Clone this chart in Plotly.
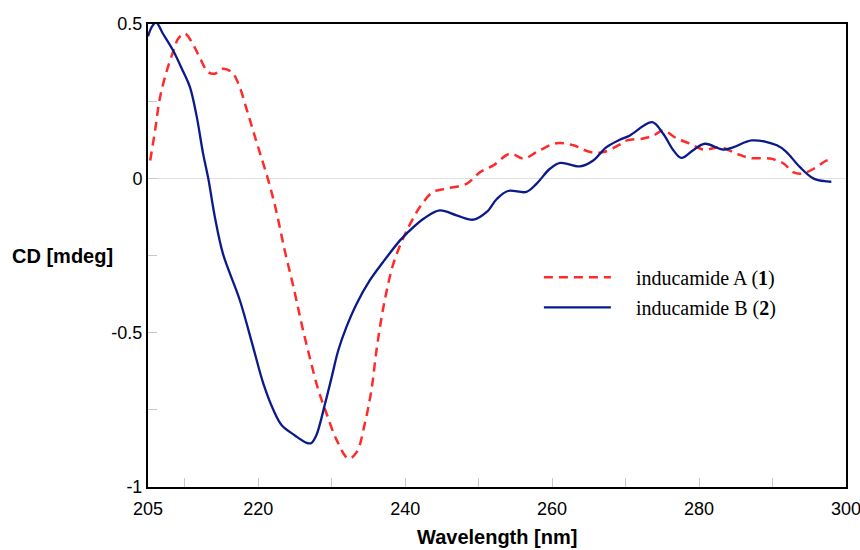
import plotly.graph_objects as go

# inducamide B (2) - solid blue
wl_b = [205.0, 205.5, 206.1, 207.0, 208.4, 209.8, 210.7, 211.6, 212.5, 213.2, 214.1, 215.2,
        217.5, 219.3, 220.7, 222.1, 223.2, 225.0, 226.6, 227.2, 227.9, 229.1, 230.0, 230.9,
        232.0, 233.4, 235.2, 237.0, 239.3, 240.2, 242.5, 244.7, 247.0, 249.3, 251.1, 252.5,
        254.0, 256.5, 257.9, 259.7, 261.1, 263.8, 265.6, 267.4, 269.2, 270.6, 273.6, 275.1,
        276.5, 277.6, 279.2, 280.8, 283.3, 284.7, 287.2, 290.6, 291.9, 293.7, 295.6, 297.4, 298.0]
cd_b = [0.46, 0.49, 0.505, 0.47, 0.415, 0.345, 0.296, 0.204, 0.080, 0.0, -0.125, -0.244,
        -0.395, -0.546, -0.665, -0.752, -0.800, -0.833, -0.857, -0.858, -0.833, -0.730, -0.644, -0.557,
        -0.482, -0.406, -0.330, -0.271, -0.201, -0.179, -0.131, -0.104, -0.120, -0.134, -0.109, -0.066,
        -0.041, -0.044, -0.017, 0.031, 0.050, 0.039, 0.058, 0.101, 0.125, 0.139, 0.182, 0.145,
        0.091, 0.066, 0.091, 0.112, 0.093, 0.101, 0.123, 0.107, 0.085, 0.037, -0.001, -0.010, -0.011]

# inducamide A (1) - dashed red
wl_a = [205.3, 206.0, 206.6, 207.5, 208.4, 209.1, 210.0, 211.2, 212.1, 213.2, 214.1, 215.2,
        216.4, 217.3, 218.4, 219.3, 220.2, 221.3, 222.4, 223.6, 224.8, 225.9, 227.0, 228.2,
        229.3, 230.7, 232.3, 233.4, 234.5, 235.4, 236.1, 236.8, 237.5, 238.4, 239.8, 240.7,
        242.0, 243.8, 245.7, 248.4, 250.2, 252.0, 254.3, 256.1, 257.9, 260.6, 262.9, 265.2,
        267.0, 269.2, 270.2, 272.4, 273.8, 275.1, 277.0, 278.8, 280.6, 282.9, 285.1, 286.9,
        289.7, 291.5, 292.8, 294.0, 295.6, 297.4, 298.0]
cd_a = [0.058, 0.161, 0.258, 0.344, 0.409, 0.452, 0.469, 0.431, 0.388, 0.344, 0.339, 0.355,
        0.344, 0.307, 0.226, 0.155, 0.085, 0.0, -0.100, -0.233, -0.352, -0.471, -0.579, -0.687,
        -0.762, -0.849, -0.908, -0.887, -0.795, -0.687, -0.557, -0.449, -0.363, -0.276, -0.190, -0.147,
        -0.093, -0.044, -0.033, -0.017, 0.020, 0.042, 0.080, 0.064, 0.085, 0.114, 0.107, 0.085,
        0.085, 0.109, 0.123, 0.129, 0.139, 0.155, 0.129, 0.112, 0.093, 0.101, 0.080, 0.066,
        0.064, 0.048, 0.020, 0.015, 0.031, 0.058, 0.060]

x_labels = [205, 220, 240, 260, 280, 300]
x_minor = [210, 220, 230, 240, 250, 260, 270, 280, 290]
y_labels = [0.5, 0, -0.5, -1]
y_label_text = ["0.5", "0", "-0.5", "-1"]
y_minor = [0.25, 0, -0.25, -0.5, -0.75]

GAP = "\u2002\u2002"

fig = go.Figure()
fig.add_trace(go.Scatter(x=wl_a, y=cd_a, mode="lines", name=GAP + "inducamide A (<b>1</b>)",
                         line=dict(color="#ff2a2a", width=2.5, dash="9px,6px", shape="spline", smoothing=1.0),
                         legendgroup="a"))
fig.add_trace(go.Scatter(x=wl_b, y=cd_b, mode="lines", name=GAP + "inducamide B (<b>2</b>)",
                         line=dict(color="#0a1a8a", width=2.3, shape="spline", smoothing=1.0),
                         legendgroup="b"))

fig.update_layout(
    width=860, height=550,
    margin=dict(l=148, r=14, t=24, b=63, autoexpand=False),
    paper_bgcolor="white", plot_bgcolor="white",
    font=dict(family="Liberation Sans, Arial", size=18, color="black"),
    showlegend=True,
    legend=dict(x=0.56, y=0.495, xanchor="left", yanchor="top",
                font=dict(family="Liberation Serif, Times New Roman", size=20, color="black"),
                bgcolor="rgba(0,0,0,0)", tracegroupgap=1, itemwidth=67),
    xaxis=dict(range=[205, 300], tickvals=x_labels, ticktext=[str(v) for v in x_labels],
               ticks="", showgrid=False, zeroline=False, automargin=False, ticklabelstandoff=4,
               ticklabeloverflow="allow",
               showline=True, mirror=True, linecolor="black", linewidth=2,
               minor=dict(tickvals=x_minor, ticks="inside", ticklen=9, tickcolor="#c8c8c8", tickwidth=1, showgrid=False)),
    yaxis=dict(range=[-1, 0.5], tickvals=y_labels, ticktext=y_label_text, automargin=False,
               ticks="", showgrid=False, zeroline=True, zerolinecolor="#e0e0e0", zerolinewidth=1,
               ticklabeloverflow="allow",
               showline=True, mirror=True, linecolor="black", linewidth=2,
               minor=dict(tickvals=y_minor, ticks="inside", ticklen=9, tickcolor="#c8c8c8", tickwidth=1, showgrid=False)),
    annotations=[
        dict(text="<b>CD [mdeg]</b>", xref="paper", yref="paper", x=-0.198, y=0.5, xanchor="left",
             yanchor="middle", showarrow=False, font=dict(size=20, family="Liberation Sans, Arial")),
        dict(text="<b>Wavelength [nm]</b>", xref="paper", yref="paper", x=0.5, y=-0.108, xanchor="center",
             yanchor="middle", showarrow=False, font=dict(size=20, family="Liberation Sans, Arial")),
    ],
)

fig.write_html("out.html")
